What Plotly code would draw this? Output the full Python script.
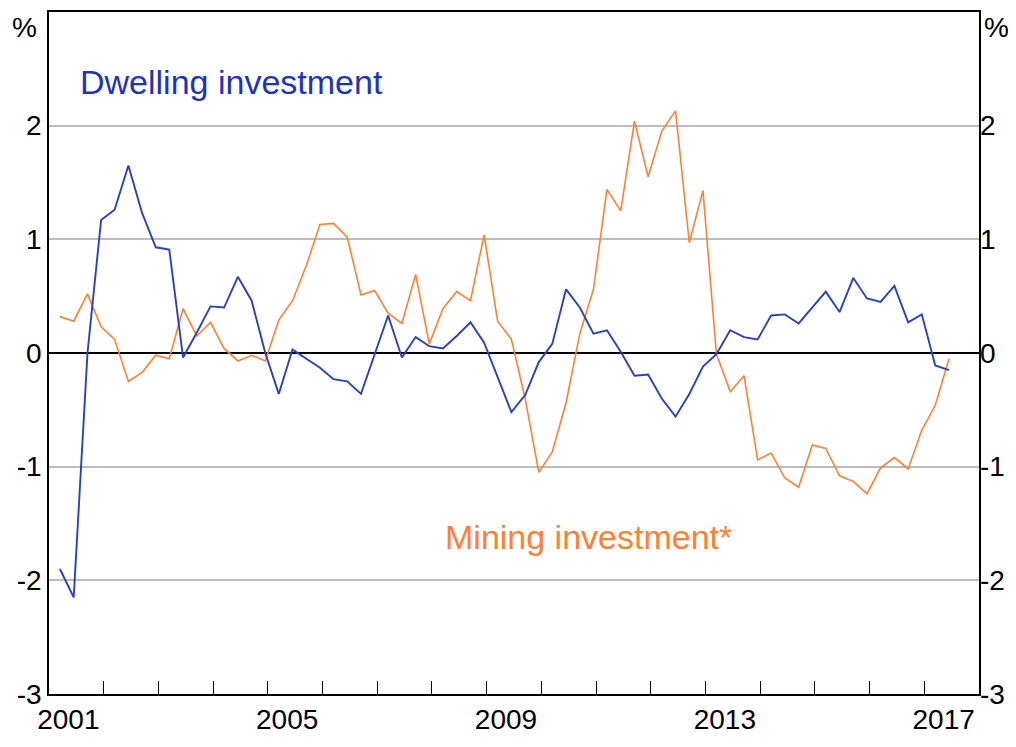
import plotly.graph_objects as go

# Quarterly observations, March quarter 2001 to June quarter 2017
start_year, start_q, n_obs = 2001, 1, 66
quarters = []
y, q = start_year, start_q
for _ in range(n_obs):
    quarters.append(f"{y}-{q*3:02d}-15")
    q += 1
    if q > 4:
        q = 1
        y += 1

dwelling = [-1.90, -2.15, 0.00, 1.17, 1.26, 1.65, 1.23, 0.93, 0.91, -0.04,
            0.18, 0.41, 0.40, 0.67, 0.46, 0.00, -0.36, 0.03, -0.05, -0.13,
            -0.23, -0.25, -0.36, -0.02, 0.33, -0.04, 0.14, 0.06, 0.04, 0.15,
            0.27, 0.09, -0.21, -0.52, -0.37, -0.08, 0.08, 0.56, 0.40, 0.17,
            0.20, 0.01, -0.20, -0.19, -0.40, -0.56, -0.36, -0.12, -0.01, 0.20,
            0.14, 0.12, 0.33, 0.34, 0.26, 0.40, 0.54, 0.36, 0.66, 0.48,
            0.45, 0.59, 0.27, 0.34, -0.11, -0.15]

mining = [0.32, 0.28, 0.52, 0.23, 0.12, -0.25, -0.17, -0.02, -0.05, 0.39,
          0.15, 0.27, 0.04, -0.07, -0.02, -0.07, 0.29, 0.46, 0.77, 1.13,
          1.14, 1.02, 0.51, 0.55, 0.35, 0.26, 0.69, 0.08, 0.39, 0.54,
          0.46, 1.04, 0.28, 0.12, -0.40, -1.05, -0.87, -0.44, 0.17, 0.56,
          1.44, 1.25, 2.04, 1.55, 1.95, 2.13, 0.97, 1.43, -0.01, -0.34,
          -0.20, -0.94, -0.88, -1.10, -1.18, -0.81, -0.84, -1.08, -1.13, -1.24,
          -1.01, -0.92, -1.02, -0.68, -0.46, -0.05]

year_labels = ["2001", "2005", "2009", "2013", "2017"]
y_ticks = [-3, -2, -1, 0, 1, 2]
y_ticktext = ["-3", "-2", "-1", "0", "1", "2"]

BLUE = "#2b40bf"
ORANGE = "#ff7f33"
FONT = "Liberation Sans, Arial, sans-serif"

fig = go.Figure()
fig.add_trace(go.Scatter(x=quarters, y=mining, mode="lines",
                         line=dict(color=ORANGE, width=1.6), showlegend=False))
fig.add_trace(go.Scatter(x=quarters, y=dwelling, mode="lines",
                         line=dict(color=BLUE, width=1.9), showlegend=False))
# invisible trace for right axis
fig.add_trace(go.Scatter(x=[quarters[0]], y=[0], yaxis="y2", mode="markers",
                         marker=dict(opacity=0), showlegend=False, hoverinfo="skip"))

fig.update_layout(
    width=1016, height=747,
    margin=dict(l=41, r=45, t=2, b=61),
    plot_bgcolor="white", paper_bgcolor="white",
    font=dict(family=FONT, size=28, color="black"),
    xaxis=dict(
        type="date",
        range=["2001-01-01", "2018-01-01"],
        tickmode="array",
        tickvals=[f"{yl}-05-10" for yl in year_labels],
        ticktext=year_labels,
        ticks="", showgrid=False, zeroline=False,
        showline=True, linecolor="black", linewidth=1.5, mirror=True,
        tickfont=dict(size=28),
        minor=dict(tickmode="array",
                   tickvals=[f"{yy}-01-01" for yy in range(2002, 2018)],
                   ticks="inside", ticklen=13, tickwidth=1, tickcolor="black",
                   showgrid=False),
    ),
    yaxis=dict(
        range=[-3, 3], tickmode="array", tickvals=y_ticks, ticktext=y_ticktext,
        ticks="", showgrid=True, gridcolor="#bcbcbc", gridwidth=1.5,
        zeroline=True, zerolinecolor="black", zerolinewidth=1.5,
        showline=True, linecolor="black", linewidth=1.5, mirror=True,
        tickfont=dict(size=28),
    ),
    yaxis2=dict(
        range=[-3, 3], overlaying="y", side="right", tickmode="array",
        tickvals=y_ticks, ticktext=y_ticktext, ticks="", showgrid=False,
        zeroline=False, showline=False, tickfont=dict(size=28),
    ),
    annotations=[
        dict(text="Dwelling investment", xref="paper", yref="paper",
             x=0.031, y=0.898, xanchor="left", yanchor="middle", showarrow=False,
             font=dict(size=34, color="#1f33b8", family=FONT)),
        dict(text="Mining investment*", xref="paper", yref="paper",
             x=0.424, y=0.2295, xanchor="left", yanchor="middle", showarrow=False,
             font=dict(size=34, color=ORANGE, family=FONT)),
        dict(text="%", xref="paper", yref="paper", x=-0.026, y=0.978,
             xanchor="center", yanchor="middle", showarrow=False,
             font=dict(size=28, family=FONT)),
        dict(text="%", xref="paper", yref="paper", x=1.019, y=0.978,
             xanchor="center", yanchor="middle", showarrow=False,
             font=dict(size=28, family=FONT)),
    ],
)

fig.write_html("out.html")
